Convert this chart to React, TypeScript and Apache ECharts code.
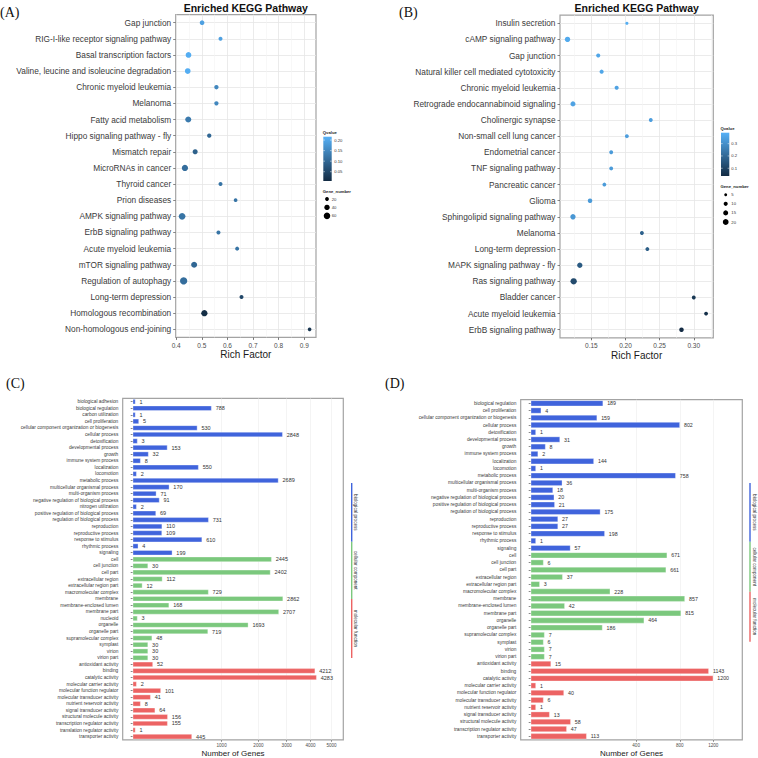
import React, { useEffect, useRef } from "react";
import * as echarts from "echarts";

// ---------------- Panel A: Enriched KEGG Pathway ----------------
const aPathways = [
  "Gap junction",
  "RIG-I-like receptor signaling pathway",
  "Basal transcription factors",
  "Valine, leucine and isoleucine degradation",
  "Chronic myeloid leukemia",
  "Melanoma",
  "Fatty acid metabolism",
  "Hippo signaling pathway - fly",
  "Mismatch repair",
  "MicroRNAs in cancer",
  "Thyroid cancer",
  "Prion diseases",
  "AMPK signaling pathway",
  "ErbB signaling pathway",
  "Acute myeloid leukemia",
  "mTOR signaling pathway",
  "Regulation of autophagy",
  "Long-term depression",
  "Homologous recombination",
  "Non-homologous end-joining",
];
const aRichFactor = [0.501, 0.573, 0.448, 0.445, 0.557, 0.557, 0.447, 0.529, 0.474, 0.434, 0.573, 0.632, 0.423, 0.565, 0.638, 0.47, 0.429, 0.655, 0.51, 0.921];
const aQvalue = [0.19, 0.19, 0.21, 0.21, 0.15, 0.15, 0.13, 0.1, 0.09, 0.11, 0.12, 0.12, 0.12, 0.12, 0.12, 0.1, 0.11, 0.05, 0.01, 0.02];
const aGeneNumber = [30, 22, 45, 45, 26, 26, 50, 26, 35, 55, 22, 19, 62, 22, 22, 50, 74, 22, 55, 19];
const aXTicks = [0.4, 0.5, 0.6, 0.7, 0.8, 0.9];
const aXMinor = [0.45, 0.55, 0.65, 0.75, 0.85];
const aQTicks = [0.05, 0.1, 0.15, 0.2];
const aSizeBreaks = [20, 40, 60];

// ---------------- Panel B ----------------
const bPathways = [
  "Insulin secretion",
  "cAMP signaling pathway",
  "Gap junction",
  "Natural killer cell mediated cytotoxicity",
  "Chronic myeloid leukemia",
  "Retrograde endocannabinoid signaling",
  "Cholinergic synapse",
  "Non-small cell lung cancer",
  "Endometrial cancer",
  "TNF signaling pathway",
  "Pancreatic cancer",
  "Glioma",
  "Sphingolipid signaling pathway",
  "Melanoma",
  "Long-term depression",
  "MAPK signaling pathway - fly",
  "Ras signaling pathway",
  "Bladder cancer",
  "Acute myeloid leukemia",
  "ErbB signaling pathway",
];
const bRichFactor = [0.202, 0.115, 0.16, 0.165, 0.187, 0.123, 0.237, 0.202, 0.179, 0.179, 0.169, 0.148, 0.123, 0.224, 0.232, 0.133, 0.124, 0.3, 0.318, 0.282];
const bQvalue = [0.38, 0.37, 0.36, 0.36, 0.35, 0.35, 0.34, 0.34, 0.33, 0.33, 0.33, 0.33, 0.32, 0.18, 0.17, 0.16, 0.12, 0.07, 0.05, 0.04];
const bGeneNumber = [6, 17, 10, 10, 10, 15, 9, 9, 9, 9, 9, 12, 17, 9, 9, 17, 24, 9, 9, 12];
const bXTicks = [0.15, 0.2, 0.25, 0.3];
const bXMinor = [0.125, 0.175, 0.225, 0.275, 0.325];
const bQTicks = [0.1, 0.2, 0.3];
const bSizeBreaks = [5, 10, 15, 20];

// ---------------- Panel C: GO ----------------
const cBPNames = ["biological adhesion", "biological regulation", "carbon utilization", "cell proliferation", "cellular component organization or biogenesis", "cellular process", "detoxification", "developmental process", "growth", "immune system process", "localization", "locomotion", "metabolic process", "multicellular organismal process", "multi-organism process", "negative regulation of biological process", "nitrogen utilization", "positive regulation of biological process", "regulation of biological process", "reproduction", "reproductive process", "response to stimulus", "rhythmic process", "signaling"];
const cBPValues = [1, 788, 1, 5, 530, 2848, 3, 153, 32, 8, 550, 2, 2689, 170, 71, 91, 2, 69, 731, 110, 109, 610, 4, 199];
const cCCNames = ["cell", "cell junction", "cell part", "extracellular region", "extracellular region part", "macromolecular complex", "membrane", "membrane-enclosed lumen", "membrane part", "nucleoid", "organelle", "organelle part", "supramolecular complex", "symplast", "virion", "virion part"];
const cCCValues = [2445, 30, 2402, 112, 12, 729, 2862, 168, 2707, 3, 1693, 719, 48, 30, 30, 30];
const cMFNames = ["antioxidant activity", "binding", "catalytic activity", "molecular carrier activity", "molecular function regulator", "molecular transducer activity", "nutrient reservoir activity", "signal transducer activity", "structural molecule activity", "transcription regulator activity", "translation regulator activity", "transporter activity"];
const cMFValues = [52, 4212, 4283, 2, 101, 41, 8, 64, 156, 155, 1, 445];
const cXTicks = [1000, 2000, 3000, 4000, 5000];

// ---------------- Panel D: GO ----------------
const dBPNames = ["biological regulation", "cell proliferation", "cellular component organization or biogenesis", "cellular process", "detoxification", "developmental process", "growth", "immune system process", "localization", "locomotion", "metabolic process", "multicellular organismal process", "multi-organism process", "negative regulation of biological process", "positive regulation of biological process", "regulation of biological process", "reproduction", "reproductive process", "response to stimulus", "rhythmic process", "signaling"];
const dBPValues = [189, 4, 159, 802, 1, 31, 8, 2, 144, 1, 758, 36, 18, 20, 21, 175, 27, 27, 198, 1, 57];
const dCCNames = ["cell", "cell junction", "cell part", "extracellular region", "extracellular region part", "macromolecular complex", "membrane", "membrane-enclosed lumen", "membrane part", "organelle", "organelle part", "supramolecular complex", "symplast", "virion", "virion part"];
const dCCValues = [671, 6, 661, 37, 3, 228, 857, 42, 815, 464, 186, 7, 6, 7, 7];
const dMFNames = ["antioxidant activity", "binding", "catalytic activity", "molecular carrier activity", "molecular function regulator", "molecular transducer activity", "nutrient reservoir activity", "signal transducer activity", "structural molecule activity", "transcription regulator activity", "transporter activity"];
const dMFValues = [15, 1143, 1200, 1, 40, 6, 1, 13, 58, 47, 113];
const dXTicks = [400, 800, 1200];

const ontologyLabels = ["biological process", "cellular component", "molecular function"];

// ---------------- styles ----------------
const FONT = "'Liberation Sans', Arial, Helvetica, sans-serif";
const SERIF = "'Liberation Serif', 'Times New Roman', serif";
const LOW = "#132B43";
const HIGH = "#56B1F7";
const BORDER = "#A3A3A3";
const MAJOR = "#E6E6E6";
const MINOR = "#F3F3F3";
const BP_COLOR = "#4064DC";
const CC_COLOR = "#7BC87D";
const MF_COLOR = "#EC6363";
const TXT = "#3a3a3a";

const sizeA = (n: number) => 0.85 * Math.sqrt(n);
const sizeB = (n: number) => 1.3 * Math.sqrt(n);

function buildOption() {
  const gridBase = { show: true, borderColor: BORDER, borderWidth: 1.2, backgroundColor: "#fff", containLabel: false };
  const grids = [
    { ...gridBase, left: 175.7, top: 14.6, width: 140.3, height: 322.8 },
    { ...gridBase, left: 560, top: 15.2, width: 153.3, height: 322.6 },
    { ...gridBase, left: 122.7, top: 398.4, width: 220.6, height: 342.2 },
    { ...gridBase, left: 520.7, top: 399.7, width: 221.6, height: 342.2 },
  ];

  const dotX = (gridIndex: number, min: number, max: number, ticks: number[], dec: number) => ({
    type: "value", gridIndex, min, max,
    axisLine: { show: false },
    axisTick: { show: true, customValues: ticks, length: 2.5, lineStyle: { color: "#555", width: 0.8 } },
    axisLabel: { customValues: ticks, formatter: (v: number) => v.toFixed(dec), fontSize: 6.5, color: "#4D4D4D", fontFamily: FONT, margin: 4.5 },
    splitLine: { show: true, lineStyle: { color: MAJOR, width: 0.8 } },
    name: "Rich Factor", nameLocation: "middle", nameGap: 11.5,
    nameTextStyle: { fontSize: 10, color: "#1a1a1a", fontFamily: FONT },
  });
  const minorX = (gridIndex: number, min: number, max: number, ticks: number[]) => ({
    type: "value", gridIndex, min, max, position: "bottom",
    axisLine: { show: false },
    axisTick: { show: false, customValues: ticks },
    axisLabel: { show: false, customValues: ticks },
    splitLine: { show: true, lineStyle: { color: MINOR, width: 0.6 } },
  });
  const barX = (gridIndex: number, min: number, max: number, ticks: number[]) => {
    const cv = ticks.map((t) => Math.sqrt(t));
    return {
      type: "value", gridIndex, min, max,
      axisLine: { show: false },
      axisTick: { show: true, customValues: cv, length: 2, lineStyle: { color: "#555", width: 0.6 } },
      axisLabel: { customValues: cv, formatter: (v: number) => String(Math.round(v * v)), fontSize: 4.6, color: "#4D4D4D", fontFamily: FONT, margin: 3.2 },
      splitLine: { show: true, lineStyle: { color: "#EDEDED", width: 0.6 } },
      name: "Number of Genes", nameLocation: "middle", nameGap: 8,
      nameTextStyle: { fontSize: 8, color: "#1a1a1a", fontFamily: FONT },
    };
  };
  const catY = (gridIndex: number, data: string[], fontSize: number, margin: number, tickLen: number, grid: boolean) => ({
    type: "category", gridIndex, data, inverse: true,
    axisLine: { show: false },
    axisTick: { show: true, alignWithLabel: true, interval: 0, length: tickLen, lineStyle: { color: "#555", width: 0.7 } },
    axisLabel: { interval: 0, fontSize, color: TXT, fontFamily: FONT, margin },
    splitLine: { show: grid, alignWithLabel: true, interval: 0, lineStyle: { color: MAJOR, width: 0.8 } },
  });

  const cNames = [...cBPNames, ...cCCNames, ...cMFNames];
  const cValues = [...cBPValues, ...cCCValues, ...cMFValues];
  const cColors = [...cBPNames.map(() => BP_COLOR), ...cCCNames.map(() => CC_COLOR), ...cMFNames.map(() => MF_COLOR)];
  const dNames = [...dBPNames, ...dCCNames, ...dMFNames];
  const dValues = [...dBPValues, ...dCCValues, ...dMFValues];
  const dColors = [...dBPNames.map(() => BP_COLOR), ...dCCNames.map(() => CC_COLOR), ...dMFNames.map(() => MF_COLOR)];

  const barSeries = (xi: number, yi: number, values: number[], colors: string[], gap: string, fs: number) => ({
    type: "bar", xAxisIndex: xi, yAxisIndex: yi, barCategoryGap: gap,
    data: values.map((v, i) => ({
      value: Math.sqrt(v),
      itemStyle: { color: colors[i], borderColor: "rgba(255,255,255,0.55)", borderWidth: 0.6 },
    })),
    label: {
      show: true, position: "right", distance: 4, fontSize: fs, color: "#333", fontFamily: FONT,
      formatter: (p: any) => String(values[p.dataIndex]),
    },
  });

  // ---------- graphic (panel letters, titles, legends) ----------
  const g: any[] = [];
  const txt = (x: number, y: number, text: string, o: any = {}) => ({
    type: "text", x, y, silent: true, rotation: o.rotation || 0,
    style: {
      text, fill: o.fill || "#222", fontSize: o.fontSize || 10, fontFamily: o.fontFamily || FONT,
      fontWeight: o.fontWeight || "normal",
      align: o.align || "left", textAlign: o.align || "left",
      verticalAlign: "middle", textVerticalAlign: "middle",
    },
  });
  g.push(txt(0, 12, "(A)", { fontSize: 14, fontFamily: SERIF, fill: "#111" }));
  g.push(txt(399, 12, "(B)", { fontSize: 14, fontFamily: SERIF, fill: "#111" }));
  g.push(txt(6, 383, "(C)", { fontSize: 14, fontFamily: SERIF, fill: "#111" }));
  g.push(txt(385, 383, "(D)", { fontSize: 14, fontFamily: SERIF, fill: "#111" }));
  g.push(txt(245.8, 7.5, "Enriched KEGG Pathway", { fontSize: 10.5, fontWeight: "bold", align: "center", fill: "#111" }));
  g.push(txt(636.7, 8, "Enriched KEGG Pathway", { fontSize: 10.5, fontWeight: "bold", align: "center", fill: "#111" }));

  const colorbar = (x: number, y: number, w: number, h: number, min: number, max: number, ticks: number[], labelX: number, dec: number, titleY: number) => {
    g.push(txt(x - 0.5, titleY, "Qvalue", { fontSize: 4.2, fontWeight: "bold" }));
    g.push({
      type: "rect", silent: true, shape: { x, y, width: w, height: h },
      style: { fill: new echarts.graphic.LinearGradient(0, 0, 0, 1, [{ offset: 0, color: HIGH }, { offset: 1, color: LOW }]) },
    });
    ticks.forEach((t) => {
      const ty = y + h - ((t - min) / (max - min)) * h;
      g.push({ type: "line", silent: true, shape: { x1: x, y1: ty, x2: x + w * 0.2, y2: ty }, style: { stroke: "#fff", lineWidth: 0.5 } });
      g.push({ type: "line", silent: true, shape: { x1: x + w * 0.8, y1: ty, x2: x + w, y2: ty }, style: { stroke: "#fff", lineWidth: 0.5 } });
      g.push(txt(labelX, ty, t.toFixed(dec), { fontSize: 4.2, fill: "#333" }));
    });
  };
  const sizeLegend = (x: number, titleY: number, cx: number, cy0: number, step: number, breaks: number[], fn: (n: number) => number, labelX: number) => {
    g.push(txt(x - 0.5, titleY, "Gene_number", { fontSize: 4.2, fontWeight: "bold" }));
    breaks.forEach((b, i) => {
      g.push({ type: "circle", silent: true, shape: { cx, cy: cy0 + i * step, r: fn(b) / 2 }, style: { fill: "#000" } });
      g.push(txt(labelX, cy0 + i * step, String(b), { fontSize: 4.2, fill: "#333" }));
    });
  };
  colorbar(323.3, 136.7, 8.4, 44.3, 0.006, 0.216, aQTicks, 334.3, 2, 132.3);
  sizeLegend(323.3, 191, 327, 199, 8.4, aSizeBreaks, sizeA, 331.7);
  colorbar(721, 132.7, 8.3, 43.3, 0.037, 0.389, bQTicks, 731.3, 1, 128);
  sizeLegend(721, 186.7, 725.7, 194.7, 9.1, bSizeBreaks, sizeB, 731.3);

  const sideLegend = (x: number, tx: number, segs: number[][]) => {
    const cols = [BP_COLOR, CC_COLOR, MF_COLOR];
    segs.forEach((s, i) => {
      g.push({ type: "line", silent: true, shape: { x1: x, y1: s[0], x2: x, y2: s[1] }, style: { stroke: cols[i], lineWidth: 1.4 } });
      g.push(txt(tx, (s[0] + s[1]) / 2, ontologyLabels[i], { fontSize: 4.6, fill: "#333", align: "center", rotation: -Math.PI / 2 }));
    });
  };
  sideLegend(351.7, 355, [[483, 541.7], [541.7, 599], [599, 658]]);
  sideLegend(750, 754, [[483, 541.7], [541.7, 591.7], [591.7, 641.7]]);

  return {
    animation: false,
    backgroundColor: "#fff",
    textStyle: { fontFamily: FONT },
    grid: grids,
    xAxis: [
      dotX(0, 0.398, 0.946, aXTicks, 1),
      minorX(0, 0.398, 0.946, aXMinor),
      dotX(1, 0.104, 0.3286, bXTicks, 2),
      minorX(1, 0.104, 0.3286, bXMinor),
      barX(2, -3.56, 74.9, cXTicks),
      barX(3, -1.9, 40.15, dXTicks),
    ],
    yAxis: [
      catY(0, aPathways, 8.3, 4.5, 2.5, true),
      catY(1, bPathways, 8.3, 4.5, 2.5, true),
      catY(2, cNames, 4.8, 4.4, 2, false),
      catY(3, dNames, 4.8, 4.4, 2, false),
    ],
    visualMap: [
      { type: "continuous", show: false, seriesIndex: 0, dimension: 2, min: 0.006, max: 0.216, inRange: { color: [LOW, HIGH] } },
      { type: "continuous", show: false, seriesIndex: 1, dimension: 2, min: 0.037, max: 0.389, inRange: { color: [LOW, HIGH] } },
    ],
    series: [
      {
        type: "scatter", xAxisIndex: 0, yAxisIndex: 0,
        data: aPathways.map((p, i) => [aRichFactor[i], p, aQvalue[i], aGeneNumber[i]]),
        symbolSize: (d: number[]) => sizeA(d[3]),
        itemStyle: { opacity: 1 },
      },
      {
        type: "scatter", xAxisIndex: 2, yAxisIndex: 1,
        data: bPathways.map((p, i) => [bRichFactor[i], p, bQvalue[i], bGeneNumber[i]]),
        symbolSize: (d: number[]) => sizeB(d[3]),
        itemStyle: { opacity: 1 },
      },
      barSeries(4, 2, cValues, cColors, "20%", 5.5),
      barSeries(5, 3, dValues, dColors, "18%", 5.3),
    ],
    graphic: g,
  };
}

export default function App() {
  const ref = useRef<HTMLDivElement>(null);
  useEffect(() => {
    if (!ref.current) return;
    const chart = echarts.init(ref.current, null, { renderer: "svg" });
    chart.setOption(buildOption() as any);
    return () => chart.dispose();
  }, []);
  return (
    <div
      ref={ref}
      style={{ position: "fixed", left: 0, top: 0, width: 758, height: 758, background: "#fff" }}
    />
  );
}
